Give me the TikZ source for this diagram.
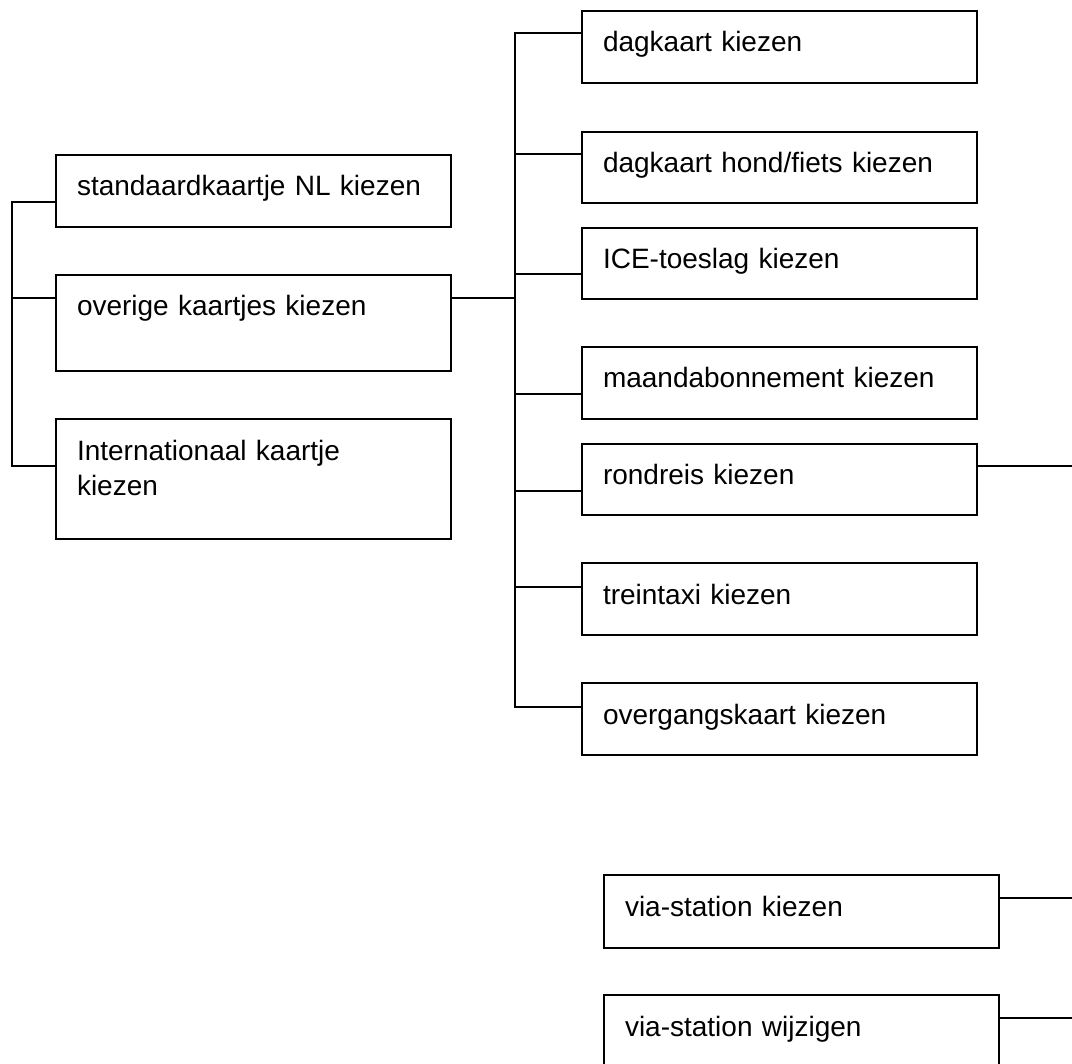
\documentclass[tikz,border=0pt]{standalone}
\usepackage{fontspec}
\setmainfont{Liberation Sans}
\usetikzlibrary{positioning}

\begin{document}
\begin{tikzpicture}[
  x=0.5pt, y=-0.5pt,
  font=\fontsize{14}{17.5}\selectfont,
  wire/.style={line width=1pt, draw=black},
  menubox/.style={draw, line width=1pt, anchor=north west, inner xsep=10.5pt,
    inner ysep=0pt, text width=176.5pt, align=left, text height=20.5pt},
]
\useasboundingbox (0,0) rectangle (1072,1064);

% ---- left column: ticket kinds ---------------------------------------------
\node[menubox, text depth=15.5pt] (std) at (55,154) {standaardkaartje NL kiezen};
\node[menubox, text depth=27.5pt] (ovr) at (55,274) {overige kaartjes kiezen};
\node[menubox, text depth=39.5pt] (int) at (55,418) {Internationaal kaartje\\kiezen};

% ---- right column: other tickets -------------------------------------------
\node[menubox, text depth=15.5pt] (dag)   at (581,10)  {dagkaart kiezen};
\node[menubox, text depth=15pt]   (hond)  at (581,131) {dagkaart hond/fiets kiezen};
\node[menubox, text depth=15pt]   (ice)   at (581,227) {ICE-toeslag kiezen};
\node[menubox, text depth=15.5pt] (maand) at (581,346) {maandabonnement kiezen};
\node[menubox, text depth=15pt]   (rond)  at (581,443) {rondreis kiezen};
\node[menubox, text depth=15.5pt] (taxi)  at (581,562) {treintaxi kiezen};
\node[menubox, text depth=15.5pt] (overg) at (581,682) {overgangskaart kiezen};

% ---- via station -----------------------------------------------------------
\node[menubox, text depth=16pt]   (viak)  at (603,874) {via-station kiezen};
\node[menubox, text depth=24.5pt] (viaw)  at (603,994) {via-station wijzigen};

% ---- left trunk ------------------------------------------------------------
\coordinate (lt) at (12,202);
\coordinate (lm) at (12,298);
\coordinate (lb) at (12,466);
\draw[wire] (lt -| std.west) -- (lt) -- (lb) -- (lb -| int.west);
\draw[wire] (lm) -- (lm -| ovr.west);

% ---- right trunk -----------------------------------------------------------
\coordinate (rt) at (515,33);
\coordinate (rb) at (515,707);
\draw[wire] (rt -| dag.west) -- (rt) -- (rb) -- (rb -| overg.west);
\draw[wire] (ovr.east |- lm) -- (lm -| rt);
\foreach \n/\y in {hond/154, ice/274, maand/394, rond/491, taxi/587} {
  \coordinate (r\n) at (515,\y);
  \draw[wire] (r\n) -- (r\n -| \n.west);
}

% ---- loose ends to the right -----------------------------------------------
\coordinate (rondend) at (1072,466);
\coordinate (viakend) at (1072,898);
\coordinate (viawend) at (1072,1018);
\draw[wire] (rond.east |- rondend) -- (rondend);
\draw[wire] (viak.east |- viakend) -- (viakend);
\draw[wire] (viaw.east |- viawend) -- (viawend);

\end{tikzpicture}
\end{document}
